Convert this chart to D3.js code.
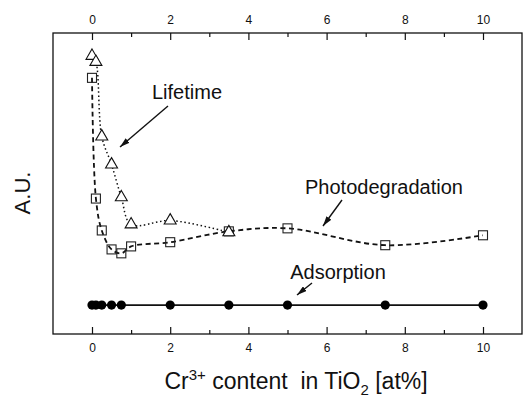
<!DOCTYPE html>
<html>
<head>
<meta charset="utf-8">
<script src="https://cdn.jsdelivr.net/npm/d3@7"></script>
<style>
  body { margin: 0; background: #fff; }
  svg { display: block; font-family: "Liberation Sans", Arial, sans-serif; }
</style>
</head>
<body>
<svg id="chart" width="524" height="397"></svg>
<script>
// ---- data (arbitrary units 0..100) ----
const photoX = [0, 0.1, 0.25, 0.5, 0.75, 1, 2, 3.5, 5, 7.5, 10];
const photoY = [85.1, 45.0, 34.4, 28.1, 26.8, 29.1, 30.5, 34.1, 35.1, 29.5, 32.8];
const lifeX = [0, 0.1, 0.25, 0.5, 0.75, 1, 2, 3.5];
const lifeY = [92.4, 90.4, 65.6, 56.3, 45.4, 36.4, 37.7, 33.8];
const adsX = [0, 0.1, 0.25, 0.5, 0.75, 2, 3.5, 5, 7.5, 10];
const adsY = [9.6, 9.6, 9.6, 9.6, 9.6, 9.6, 9.6, 9.6, 9.6, 9.6];
const xTicks = d3.range(0, 11, 1);

const svg = d3.select("#chart");
const frame = { left: 53, right: 522, top: 33, bottom: 334 };

const x = d3.scaleLinear().domain([0, 10]).range([92, 483]);
const y = d3.scaleLinear().domain([0, 100]).range([frame.bottom, frame.top]);

// frame
svg.append("rect")
    .attr("x", frame.left).attr("y", frame.top)
    .attr("width", frame.right - frame.left)
    .attr("height", frame.bottom - frame.top)
    .attr("fill", "none").attr("stroke", "#111").attr("stroke-width", 1.3);

// axes, ticks pointing inward
function styleAxis(g, dir) {
    g.select(".domain").remove();
    g.selectAll(".tick line").attr("stroke", "#111").attr("stroke-width", 1.2);
    g.selectAll(".tick").filter(d => d % 2 !== 0)
        .select("line").attr("y2", dir * 4);
    g.selectAll(".tick text")
        .attr("font-size", 12).attr("fill", "#111")
        .attr("font-family", "Liberation Sans, Arial, sans-serif");
}

const fmt = d => (d % 2 === 0 ? d : "");

svg.append("g")
    .attr("transform", `translate(0,${frame.bottom})`)
    .call(d3.axisBottom(x).tickValues(xTicks).tickFormat(fmt)
        .tickSizeInner(-7).tickSizeOuter(0).tickPadding(9))
    .call(g => styleAxis(g, -1));

svg.append("g")
    .attr("transform", `translate(0,${frame.top})`)
    .call(d3.axisTop(x).tickValues(xTicks).tickFormat(fmt)
        .tickSizeInner(-7).tickSizeOuter(0).tickPadding(9))
    .call(g => styleAxis(g, 1));

// lines
const curve = d3.curveCatmullRom.alpha(0.5);
const photoData = photoX.map((v, i) => [v, photoY[i]]);
const lifeData = lifeX.map((v, i) => [v, lifeY[i]]);
const adsData = adsX.map((v, i) => [v, adsY[i]]);
const line = d3.line().x(d => x(d[0])).y(d => y(d[1])).curve(curve);

svg.append("path").attr("d", line(photoData))
    .attr("fill", "none").attr("stroke", "#111")
    .attr("stroke-width", 1.8).attr("stroke-dasharray", "5,3.5");

svg.append("path").attr("d", line(lifeData))
    .attr("fill", "none").attr("stroke", "#111")
    .attr("stroke-width", 1.5).attr("stroke-dasharray", "1.5,2.6");

svg.append("path").attr("d", d3.line().x(d => x(d[0])).y(d => y(d[1]))(adsData))
    .attr("fill", "none").attr("stroke", "#111").attr("stroke-width", 1.8);

// markers
svg.selectAll(".sq").data(photoData).join("rect")
    .attr("x", d => x(d[0]) - 4.5).attr("y", d => y(d[1]) - 4.5)
    .attr("width", 9).attr("height", 9)
    .attr("fill", "none")
    .attr("stroke", "#222").attr("stroke-width", 1.1);

const tri = d3.symbol().type(d3.symbolTriangle).size(62);
svg.selectAll(".tri").data(lifeData).join("path")
    .attr("d", tri)
    .attr("transform", d => `translate(${x(d[0])},${y(d[1])})`)
    .attr("fill", "#fff").attr("stroke", "#111").attr("stroke-width", 1.1);

svg.selectAll(".dot").data(adsData).join("circle")
    .attr("cx", d => x(d[0])).attr("cy", d => y(d[1])).attr("r", 4.6)
    .attr("fill", "#000");

// annotation labels + arrows
svg.append("defs").append("marker")
    .attr("id", "head").attr("viewBox", "0 0 10 6")
    .attr("refX", 10).attr("refY", 3)
    .attr("markerWidth", 10).attr("markerHeight", 6)
    .attr("markerUnits", "userSpaceOnUse").attr("orient", "auto")
    .append("path").attr("d", "M0,0L10,3L0,6Z").attr("fill", "#111");

const notes = [
    { text: "Lifetime", tx: 187, ty: 99, x1: 168, y1: 106, x2: 120, y2: 147 },
    { text: "Photodegradation", tx: 384, ty: 194, x1: 342, y1: 200, x2: 323, y2: 226 },
    { text: "Adsorption", tx: 338, ty: 279, x1: 312, y1: 283, x2: 297, y2: 295 }
];
notes.forEach(n => {
    svg.append("text").attr("x", n.tx).attr("y", n.ty)
        .attr("text-anchor", "middle").attr("font-size", 20)
        .attr("fill", "#111").text(n.text);
    svg.append("line")
        .attr("x1", n.x1).attr("y1", n.y1).attr("x2", n.x2).attr("y2", n.y2)
        .attr("stroke", "#111").attr("stroke-width", 1.4)
        .attr("marker-end", "url(#head)");
});

// axis titles
const xt = svg.append("text").attr("x", 296).attr("y", 389)
    .attr("text-anchor", "middle").attr("font-size", 23).attr("fill", "#111")
    .style("white-space", "pre");
xt.append("tspan").text("Cr");
xt.append("tspan").attr("font-size", 15).attr("dy", -9).text("3+");
xt.append("tspan").attr("dy", 9).text(" content  in TiO");
xt.append("tspan").attr("font-size", 15).attr("dy", 6).text("2");
xt.append("tspan").attr("dy", -6).text(" [at%]");

svg.append("text")
    .attr("transform", "translate(30,193) rotate(-90)")
    .attr("text-anchor", "middle").attr("font-size", 22).attr("fill", "#111")
    .text("A.U.");
</script>
</body>
</html>
